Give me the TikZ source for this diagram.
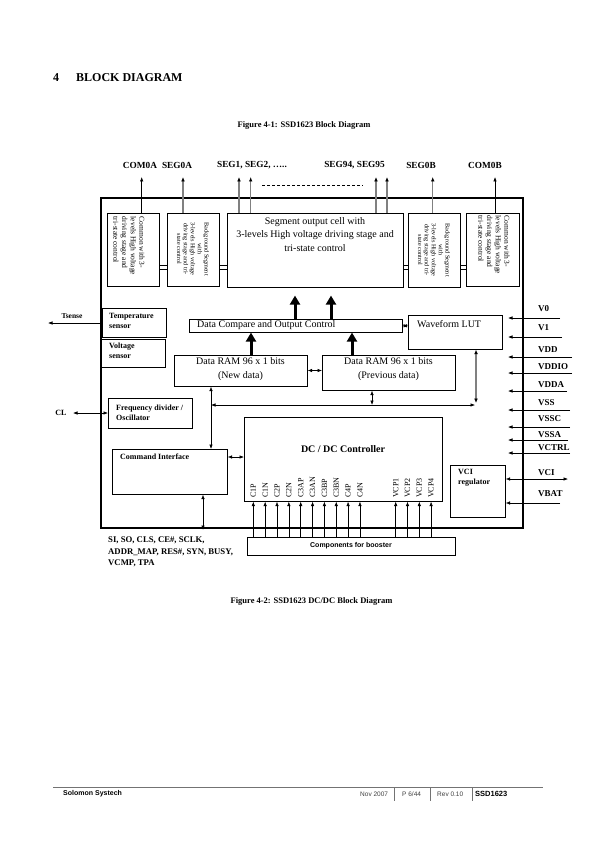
\documentclass[tikz,border=0pt]{standalone}
\usepackage{fontspec}
\setmainfont{Liberation Serif}
\setsansfont{Liberation Sans}
\usetikzlibrary{arrows.meta}
\newcommand\blk[6][]{\node[box,#1,minimum width={(#5-#3)*1pt},minimum height={(#6-#4)*1pt}] (#2) at (#3,#4) {};}
\begin{document}
\begin{tikzpicture}[x=1pt,y=-1pt,
 box/.style={draw, line width=0.6pt, inner sep=0pt, anchor=north west},
 txt/.style={inner sep=0pt, font=\fontsize{10}{13.5}\selectfont, align=center},
 blab/.style={inner sep=0pt, font=\fontsize{9.3}{11}\selectfont\bfseries},
 rlab/.style={inner sep=0pt, font=\fontsize{9}{11}\selectfont\bfseries, anchor=west},
 slab/.style={inner sep=0pt, font=\fontsize{8}{10}\selectfont\bfseries, align=left, anchor=north west},
 rot/.style={inner sep=0pt, rotate=-90, font=\fontsize{7.5}{8.7}\selectfont, align=left},
 rots/.style={inner sep=0pt, rotate=-90, font=\fontsize{6.2}{6.9}\selectfont, align=center},
 pinl/.style={inner sep=0pt, rotate=90, anchor=west, font=\fontsize{8}{9}\selectfont},
 arr/.style={line width=0.6pt, -{Latex[length=4.5pt,width=3.5pt]}},
 darr/.style={line width=0.6pt, {Latex[length=4.5pt,width=3.5pt]}-{Latex[length=4.5pt,width=3.5pt]}},
 garr/.style={line width=1.1pt, draw=black!50, -{Latex[length=4.5pt,width=3.8pt,black]}},
 gdarr/.style={line width=1.1pt, draw=black!50, {Latex[length=4.5pt,width=3.8pt,black]}-{Latex[length=4.5pt,width=3.8pt,black]}},
 thk/.style={line width=3pt, -{Triangle[length=9pt,width=10pt]}},
 foot/.style={inner sep=0pt, anchor=west, font=\sffamily\fontsize{6.5}{8}\selectfont, text=black!75}
]
\useasboundingbox[fill=white] (0,0) rectangle (595,842);

% header
\node[inner sep=0pt, anchor=west, font=\fontsize{12}{14}\selectfont\bfseries] (secnum) at (53,78) {4};
\node[inner sep=0pt, anchor=west, font=\fontsize{12}{14}\selectfont\bfseries] (sectitle) at (76,78) {BLOCK DIAGRAM};
\node[inner sep=0pt, font=\fontsize{8.5}{10}\selectfont\bfseries] (fig1) at (304,125) {Figure 4-1: SSD1623 Block Diagram};

% outer chip box
\blk[line width=1.6pt]{chip}{100}{197}{522}{527}

% top row boxes
\blk{com0a}{107}{213}{159}{286}
\blk{seg0a}{167}{213}{219}{286}
\blk{segcell}{227}{213}{403}{287}
\blk{seg0b}{408}{213}{460}{287}
\blk{com0b}{466}{213}{519}{286}

\node[rot] (tcom0a) at (129,246) {Common with 3-\\levels High voltage\\driving stage and\\tri-state control};
\node[rots] (tseg0a) at (193,249) {Background Segment\\with\\3-levels High voltage\\driving stage and tri-\\state control};
\node[txt] (tsegcell) at (315,234.5) {Segment output cell with\\3-levels High voltage driving stage and\\tri-state control};
\node[rots] (tseg0b) at (434,250) {Background Segment\\with\\3-levels High voltage\\driving stage and tri-\\state control};
\node[rot] (tcom0b) at (494,245) {Common with 3-\\levels High voltage\\driving stage and\\tri-state control};

% double-line links between top boxes
\foreach \a/\b in {com0a/seg0a, seg0a/segcell, segcell/seg0b, seg0b/com0b}{
  \draw[line width=0.6pt] (\a.east |- 0,265) -- (\b.west |- 0,265);
  \draw[line width=0.6pt] (\a.east |- 0,269) -- (\b.west |- 0,269);
}

% top labels
\node[blab] (lcom0a) at (140,165) {COM0A};
\node[blab] (lseg0a) at (177,165) {SEG0A};
\node[blab] (lseg12) at (252,165) {SEG1, SEG2, …..};
\node[blab] (lseg9495) at (354.5,165) {SEG94, SEG95};
\node[blab] (lseg0b) at (421,165) {SEG0B};
\node[blab] (lcom0b) at (485,165) {COM0B};

\coordinate (ecom0a) at (141.7,177);
\coordinate (eseg0a) at (183,177);
\coordinate (eseg1) at (239,177);
\coordinate (eseg2) at (250.7,177);
\coordinate (eseg94) at (376,177);
\coordinate (eseg95) at (387,177);
\coordinate (eseg0b) at (432.7,177);
\coordinate (ecom0b) at (495,177);
\draw[arr] (ecom0a |- com0a.north) -- (ecom0a);
\draw[garr] (eseg0a |- seg0a.north) -- (eseg0a);
\draw[garr] (eseg1 |- segcell.north) -- (eseg1);
\draw[garr] (eseg2 |- segcell.north) -- (eseg2);
\draw[garr] (eseg94 |- segcell.north) -- (eseg94);
\draw[garr] (eseg95 |- segcell.north) -- (eseg95);
\draw[garr] (eseg0b |- seg0b.north) -- (eseg0b);
\draw[arr] (ecom0b |- com0b.north) -- (ecom0b);
\coordinate (dashL) at (262,185);
\coordinate (dashR) at (363,185);
\draw[line width=0.6pt, dash pattern=on 3pt off 2pt] (dashL) -- (dashR);

% middle blocks
\blk{dc}{189}{319}{402}{332}
\node[inner sep=0pt, anchor=west, font=\fontsize{10}{12}\selectfont] (tdc) at (197,325.5) {Data Compare and Output Control};
\blk{lut}{408}{315}{502}{349}
\node[inner sep=0pt, anchor=base west, font=\fontsize{10}{12}\selectfont] (tlut) at (417,327.5) {Waveform LUT};
\blk{ramN}{174}{355}{307}{386}
\node[txt] (tramN) at (240.5,369) {Data RAM 96 x 1 bits\\(New data)};
\blk{ramP}{322}{355}{455}{390}
\node[txt] (tramP) at (388.5,369) {Data RAM 96 x 1 bits\\(Previous data)};

\coordinate (xa) at (295,0);
\coordinate (xb) at (331,0);
\coordinate (xc) at (251,0);
\coordinate (xd) at (352,0);
\draw[thk] (xa |- dc.north) -- ([yshift=-8pt]xa |- segcell.south);
\draw[thk] (xb |- dc.north) -- ([yshift=-8pt]xb |- segcell.south);
\draw[thk] (xc |- ramN.north) -- (xc |- dc.south);
\draw[thk] (xd |- ramP.north) -- (xd |- dc.south);
\draw[darr] (dc.east) -- (dc.east -| lut.west);
\draw[darr] (ramN.east |- 0,370.5) -- (ramP.west |- 0,370.5);

% left blocks
\blk{temp}{102}{308}{166}{337}
\node[slab] (ttemp) at (109,313) {Temperature\\sensor};
\blk{volt}{101}{339}{165}{367}
\node[slab] (tvolt) at (109,343) {Voltage\\sensor};
\blk{freq}{108}{398}{192}{428}
\node[slab] (tfreq) at (116,405) {Frequency divider /\\Oscillator};
\blk{ci}{112}{449}{227}{494}
\node[slab] (tci) at (120,454) {Command Interface};

\coordinate (tsp) at (48,323);
\node[inner sep=0pt, font=\fontsize{7.5}{9}\selectfont\bfseries] (ltsense) at (72,316) {Tsense};
\draw[arr] (temp.west |- tsp) -- (tsp);
\coordinate (clp) at (73,413);
\node[inner sep=0pt, font=\fontsize{8}{9}\selectfont\bfseries] (lcl) at (61,413) {CL};
\draw[darr] (clp) -- (freq.west |- clp);

% bus
\coordinate (busL) at (211,405);
\coordinate (busR) at (476,405);
\draw[darr] (busL) -- ([xshift=-1pt]busR);
\draw[gdarr] (busR |- lut.south) -- ([yshift=2pt]busR);
\draw[darr] (busL |- ci.north) -- (busL |- ramN.south);
\coordinate (xp) at (372,0);
\draw[darr] (xp |- ramP.south) -- (xp |- busL);

% DC/DC
\blk{dcdc}{244}{417}{442}{501}
\node[inner sep=0pt, font=\fontsize{10}{12}\selectfont\bfseries] (tdcdc) at (343,449) {DC / DC Controller};
\draw[darr] (ci.east |- 0,457) -- (dcdc.west |- 0,457);
\coordinate (ciout) at (203,530);
\draw[darr] (ciout |- ci.south) -- (ciout);

\blk{boost}{247}{537}{455}{555}
\node[inner sep=0pt, font=\sffamily\bfseries\fontsize{7}{8}\selectfont] (tboost) at (351,546) {Components for booster};

\foreach \p [count=\i from 0] in {C1P,C1N,C2P,C2N,C3AP,C3AN,C3BP,C3BN,C4P,C4N}{
  \pgfmathsetmacro\xx{253.3+11.85*\i}
  \coordinate (x\p) at (\xx,0);
  \node[pinl] (l\p) at (\xx,498) {\p};
  \draw[arr] (x\p |- boost.north) -- (x\p |- dcdc.south);
}
\foreach \p [count=\i from 0] in {VCP1,VCP2,VCP3,VCP4}{
  \pgfmathsetmacro\xx{395.7+11.8*\i}
  \coordinate (x\p) at (\xx,0);
  \node[pinl] (l\p) at (\xx,498) {\p};
  \draw[arr] (x\p |- boost.north) -- (x\p |- dcdc.south);
}

% VCI regulator
\blk{vcireg}{450}{465}{505}{517}
\node[slab] (tvcireg) at (458,469) {VCI\\regulator};

% right pins
\foreach \nm/\ly/\ty/\xr in {V0/318/309/560, V1/337/328/562, VDD/357/350/572, VDDIO/373/367/572, VDDA/391/385/567, VSS/410/403/570, VSSC/427/419/570, VSSA/440/435/568, VCTRL/453/448/570}{
  \coordinate (p\nm) at (\xr,\ly);
  \coordinate (e\nm) at (508,\ly);
  \node[rlab] (l\nm) at (538,\ty) {\nm};
  \draw[arr] (p\nm) -- (e\nm);
}
\node[rlab] (lVCI) at (538,473) {VCI};
\coordinate (pVCI) at (568,479);
\draw[darr] (vcireg.east |- pVCI) -- (pVCI);
\node[rlab] (lVBAT) at (538,494) {VBAT};
\coordinate (pVBAT) at (560,503);
\draw[arr] (pVBAT) -- (vcireg.east |- pVBAT);

% bottom labels
\node[inner sep=0pt, anchor=north west, align=left, font=\fontsize{8.7}{11.5}\selectfont\bfseries] (lsig) at (108,537) {SI, SO, CLS, CE\#, SCLK,\\ADDR\_MAP, RES\#, SYN, BUSY,\\VCMP, TPA};

\node[inner sep=0pt, font=\fontsize{8.5}{10}\selectfont\bfseries] (fig2) at (311.5,601) {Figure 4-2: SSD1623 DC/DC Block Diagram};

% footer
\coordinate (fl) at (53,787);
\coordinate (fr) at (543,787);
\draw[line width=0.8pt, black!55] (fl) -- (fr);
\node[inner sep=0pt, anchor=west, font=\sffamily\bfseries\fontsize{7}{8}\selectfont] (fsol) at (63,794) {Solomon Systech};
\node[foot] (fdate) at (360,794) {Nov 2007};
\node[foot] (fpage) at (402,794) {P 6/44};
\node[foot] (frev) at (437,794) {Rev 0.10};
\node[inner sep=0pt, anchor=west, font=\sffamily\bfseries\fontsize{7.5}{8}\selectfont] (fpart) at (475,793.5) {SSD1623};
\foreach \sx in {394,430.5,472.5}{
  \draw[line width=0.6pt, black!55] (\sx,787) -- (\sx,801);
}
\end{tikzpicture}
\end{document}
